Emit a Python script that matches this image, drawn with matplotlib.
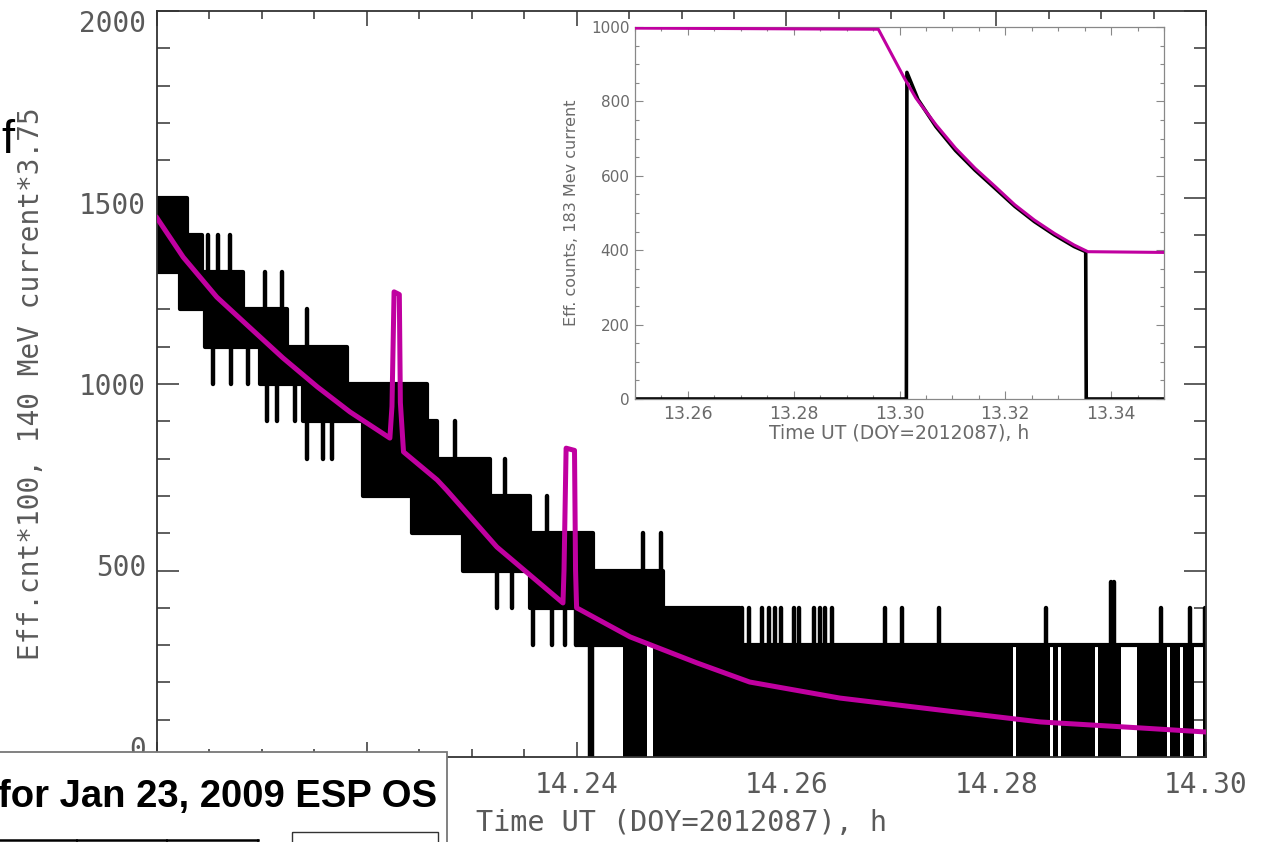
import numpy as np
import matplotlib
matplotlib.use("Agg")
import matplotlib.pyplot as plt
import matplotlib.transforms as mtransforms
from matplotlib.ticker import MultipleLocator, FormatStrFormatter, FuncFormatter
from matplotlib.patches import Rectangle

plt.rcParams['font.family'] = ['DejaVu Sans']

# === main panel: 140 MeV counts (quantised, dense -> drawn as a band) ===
# upper envelope of the count band (step, post)
hi_t = [14.2000, 14.2029, 14.2043, 14.2082, 14.2124, 14.2181, 14.2257, 14.2267,
        14.2317, 14.2356, 14.2416, 14.2482, 14.2556, 14.3000]
hi_v = [1500, 1400, 1300, 1200, 1100, 1000, 900, 800, 700, 600, 500, 400, 300]

# lower envelope (0 = counts drop to zero; short 300 pieces = white gaps)
lo_t = [14.2000, 14.2022, 14.2046, 14.2098, 14.2139, 14.2196, 14.2243, 14.2292,
        14.2356, 14.2400, 14.2444, 14.2467, 14.2473, 14.2816, 14.2819, 14.2851,
        14.2854, 14.2859, 14.2862, 14.2894, 14.2897, 14.2919, 14.2934, 14.2963,
        14.2966, 14.2975, 14.2978, 14.2989, 14.2997, 14.3000]
lo_v = [1300, 1200, 1100, 1000, 900, 700, 600, 500, 400, 300,
        0, 300, 0, 300, 0, 300, 0, 300, 0, 300, 0, 300, 0, 300, 0, 300, 0, 300, 0]

# single-sample spikes above the band
up_t = [14.2049, 14.2058, 14.2070, 14.2103, 14.2119, 14.2143, 14.2284, 14.2332,
        14.2372, 14.2463, 14.2480,
        14.2558, 14.2564, 14.2577, 14.2583, 14.2589, 14.2595, 14.2607, 14.2612,
        14.2626, 14.2632, 14.2637, 14.2643,
        14.2694, 14.2710, 14.2745, 14.2847, 14.2909, 14.2912, 14.2957, 14.2985, 14.2999]
up_v = [1400, 1400, 1400, 1300, 1300, 1200, 900, 800, 700, 600, 600,
        400, 400, 400, 400, 400, 400, 400, 400, 400, 400, 400, 400,
        400, 400, 400, 400, 470, 470, 400, 400, 400]

# single-sample spikes below the band
dn_t = [14.2053, 14.2071, 14.2087, 14.2105, 14.2114, 14.2132, 14.2143, 14.2158,
        14.2167, 14.2324, 14.2338, 14.2358, 14.2377, 14.2389, 14.2399, 14.2413, 14.2415]
dn_v = [1000, 1000, 1000, 900, 900, 900, 800, 800, 800, 400, 400,
        300, 300, 300, 300, 0, 0]

# scaled 140 MeV current (magenta)
fit_t = [14.2000, 14.2025, 14.2057, 14.2089, 14.2120, 14.2153, 14.2184, 14.2222,
         14.2224, 14.2226, 14.2231, 14.2232, 14.2235, 14.2267, 14.2276, 14.2324,
         14.2387, 14.2388, 14.2390, 14.2398, 14.2399, 14.2400, 14.2451, 14.2515,
         14.2565, 14.2651, 14.2746, 14.2842, 14.2937, 14.3000]
fit_v = [1445, 1340, 1233, 1150, 1070, 992, 925, 855,
         940, 1247, 1240, 950, 818, 743, 716, 563,
         413, 500, 828, 822, 500, 400, 322, 252,
         201, 158, 126, 94, 78, 67]

# === inset: 183 MeV ===
ins_fit_t = [13.2500, 13.2655, 13.2800, 13.2960, 13.3009, 13.3031, 13.3069, 13.3106,
             13.3143, 13.3181, 13.3218, 13.3255, 13.3293, 13.3330, 13.3356, 13.3500]
ins_fit_v = [997, 996, 995, 994, 863, 809, 737, 674,
             620, 571, 522, 481, 445, 414, 396, 394]
ins_obs_t = [13.2500, 13.3013, 13.3014, 13.3035, 13.3069, 13.3106, 13.3143, 13.3181,
             13.3218, 13.3255, 13.3293, 13.3330, 13.3352, 13.3353, 13.3500]
ins_obs_v = [0, 0, 878, 805, 732, 668, 615, 566,
             518, 477, 441, 410, 396, 0, 0]

# first x labels are covered by the pasted slide box in the original
hidden_below = 14.23


def step_at(edges, vals, t):
    idx = np.searchsorted(edges, t, side='right') - 1
    idx = np.clip(idx, 0, len(vals) - 1)
    return np.asarray(vals)[idx]


W, H = 1268, 842
fig = plt.figure(figsize=(W / 100, H / 100), dpi=100)
ax = fig.add_axes([157 / W, 1 - 757 / H, 1049 / W, 746 / H])

# band body
edges = np.union1d(hi_t, lo_t)
hi_e = step_at(hi_t, hi_v, edges)
lo_e = step_at(lo_t, lo_v, edges)
ax.fill_between(edges, lo_e, hi_e, step='post', color='black', lw=0, zorder=2)
ax.step(hi_t, hi_v + [hi_v[-1]], where='post', color='black', lw=3.0, zorder=2)
k = lo_v.index(0)
ax.step(lo_t[:k + 1], lo_v[:k] + [lo_v[k - 1]], where='post', color='black', lw=3.0, zorder=2)

# spikes
ax.vlines(up_t, step_at(hi_t, hi_v, np.array(up_t)), up_v, color='black', lw=3.2,
          capstyle='round', zorder=2)
ax.vlines(dn_t, dn_v, step_at(lo_t, lo_v, np.array(dn_t)), color='black', lw=3.2,
          capstyle='round', zorder=2)

ax.plot(fit_t, fit_v, color='#c000a0', lw=3.6, zorder=4, solid_joinstyle='round')

mono = ['DejaVu Sans Mono']
ax.set_xlim(14.20, 14.30)
ax.set_ylim(0, 2000)
ax.xaxis.set_major_locator(MultipleLocator(0.02))
ax.xaxis.set_minor_locator(MultipleLocator(0.005))
ax.xaxis.set_major_formatter(FuncFormatter(lambda v, p: '' if v < hidden_below else f'{v:.2f}'))
ax.yaxis.set_major_locator(MultipleLocator(500))
ax.yaxis.set_minor_locator(MultipleLocator(100))
ax.tick_params(which='both', direction='in', top=True, right=True,
               color='#333333', width=1.1, labelcolor='#5a5a5a', labelsize=20)
ax.tick_params(axis='x', which='major', length=11, pad=10)
ax.tick_params(axis='x', which='minor', length=6)
ax.tick_params(axis='y', which='major', length=16, pad=8)
ax.tick_params(axis='y', which='minor', length=9)
for lab in ax.get_xticklabels() + ax.get_yticklabels():
    lab.set_family(mono)
# the IDL labels sit a little closer together than the ticks
for tk, val in zip(ax.yaxis.get_major_ticks(), ax.get_yticks()):
    off = (1000 - val) / 100.0
    sh = mtransforms.ScaledTranslation(0, off / 100, fig.dpi_scale_trans)
    tk.label1.set_transform(tk.label1.get_transform() + sh)
for s in ax.spines.values():
    s.set_color('#333333')
    s.set_linewidth(1.3)
ax.set_xlabel('Time UT (DOY=2012087), h', fontsize=20.5, color='#5a5a5a', family=mono)
ax.set_ylabel('Eff.cnt*100, 140 MeV current*3.75', fontsize=20, color='#5a5a5a', family=mono)
ax.xaxis.set_label_coords(0.5, -0.07)
ax.yaxis.set_label_coords(-0.107, 0.5)

# inset
axi = fig.add_axes([635 / W, 1 - 399 / H, 529 / W, 372 / H])
axi.plot(ins_obs_t, ins_obs_v, color='black', lw=2.6, zorder=2)
axi.plot(ins_fit_t, ins_fit_v, color='#c000a0', lw=2.2, zorder=3)
axi.set_xlim(13.25, 13.35)
axi.set_ylim(0, 1000)
axi.xaxis.set_major_locator(MultipleLocator(0.02))
axi.xaxis.set_minor_locator(MultipleLocator(0.005))
axi.xaxis.set_major_formatter(FormatStrFormatter('%.2f'))
axi.yaxis.set_major_locator(MultipleLocator(200))
axi.yaxis.set_minor_locator(MultipleLocator(50))
axi.tick_params(which='both', direction='in', top=True, right=True,
                color='#888888', width=0.8, labelcolor='#6a6a6a', labelsize=11)
axi.tick_params(axis='x', labelsize=12.5)
axi.tick_params(which='major', length=6, pad=4)
axi.tick_params(which='minor', length=3)
for s in axi.spines.values():
    s.set_color('#888888')
    s.set_linewidth(0.9)
axi.set_xlabel('Time UT (DOY=2012087), h', fontsize=13.5, color='#6a6a6a', labelpad=1)
axi.set_ylabel('Eff. counts, 183 Mev current', fontsize=11.5, color='#6a6a6a')
axi.yaxis.set_label_coords(-0.105, 0.5)

# slide fragments lying over the plot
ov = fig.add_axes([0, 0, 1, 1], zorder=10)
ov.set_xlim(0, W)
ov.set_ylim(H, 0)
ov.axis('off')
ov.add_patch(Rectangle((-5, 752), 452, 100, facecolor='white', edgecolor='#777777', lw=1.3))
ov.text(437, 807, 'for Jan 23, 2009 ESP OS', ha='right', va='baseline',
        fontsize=27.5, fontweight='bold', family=['Liberation Sans', 'DejaVu Sans'])
ov.plot([0, 258], [840, 840], color='black', lw=1.8)
for xv in [77, 167, 258]:
    ov.plot([xv, xv], [840, 850], color='black', lw=1.2)
ov.add_patch(Rectangle((292, 832), 146, 20, facecolor='none', edgecolor='#333333', lw=1))
ov.text(14, 153, 'f', ha='right', va='baseline', fontsize=34,
        family=['Liberation Sans', 'DejaVu Sans'])

fig.savefig('out.png', dpi=100)
